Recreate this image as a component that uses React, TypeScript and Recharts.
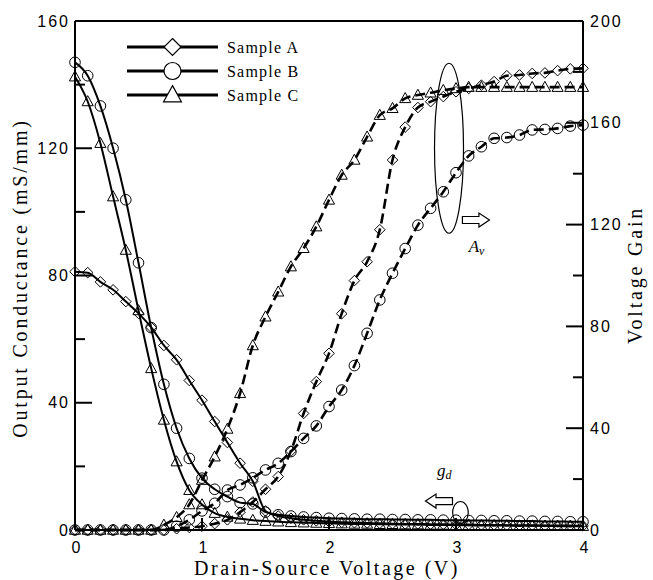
import { ComposedChart, Line, XAxis, YAxis, Legend, ReferenceDot, ReferenceLine } from 'recharts'

// drain-source voltage (V), one point every 0.1 V
const volts = [
  0, 0.1, 0.2, 0.3, 0.4, 0.5, 0.6, 0.7, 0.8, 0.9,
  1.0, 1.1, 1.2, 1.3, 1.4, 1.5, 1.6, 1.7, 1.8, 1.9,
  2.0, 2.1, 2.2, 2.3, 2.4, 2.5, 2.6, 2.7, 2.8, 2.9,
  3.0, 3.1, 3.2, 3.3, 3.4, 3.5, 3.6, 3.7, 3.8, 3.9, 4.0,
]

// output conductance gd (mS/mm), left axis
const gdA = [
  81.2, 80.9, 78.0, 75.5, 71.8, 68.1, 63.7, 58.0, 53.5, 47.0,
  40.8, 34.1, 27.5, 21.0, 15.3, 6.0, 4.4, 3.7, 3.2, 2.9,
  2.6, 2.4, 2.3, 2.2, 2.1, 2.0, 1.9, 1.9, 1.8, 1.8,
  1.7, 1.7, 1.6, 1.6, 1.5, 1.5, 1.5, 1.4, 1.4, 1.4, 1.3,
]
const gdB = [
  147.0, 142.8, 133.3, 120.0, 103.8, 84.0, 63.6, 45.8, 32.0, 22.5,
  16.3, 12.8, 10.5, 8.6, 8.2, 5.6, 4.8, 4.4, 4.1, 3.9,
  3.7, 3.6, 3.5, 3.4, 3.4, 3.3, 3.3, 3.2, 3.2, 3.1,
  3.1, 3.0, 3.0, 2.9, 2.9, 2.8, 2.8, 2.7, 2.7, 2.6, 2.6,
]
const gdC = [
  142.5, 134.7, 121.6, 104.8, 88.0, 69.0, 50.8, 34.6, 21.5, 12.5,
  8.0, 5.3, 4.1, 3.5, 3.1, 2.8, 2.6, 2.4, 2.3, 2.2,
  2.1, 2.0, 1.9, 1.9, 1.8, 1.8, 1.7, 1.7, 1.6, 1.6,
  1.5, 1.5, 1.4, 1.4, 1.4, 1.3, 1.3, 1.3, 1.2, 1.2, 1.2,
]

// voltage gain Av, right axis
const avA = [
  0, 0, 0, 0, 0, 0, 0, 0, 0.5, 1.0,
  1.5, 2.5, 4.0, 7.0, 11.0, 16.0, 21.0, 31.0, 45.8, 58.3,
  69.4, 85.0, 98.0, 105.4, 118.0, 145.4, 158.3, 166.0, 168.3, 170.3,
  172.2, 173.5, 174.8, 176.2, 178.5, 178.8, 179.4, 179.6, 180.5, 181.2, 181.4,
]
const avB = [
  0, 0, 0, 0, 0, 0, 0, 0, 1.5, 4.0,
  7.5, 10.5, 15.7, 17.7, 20.5, 23.6, 26.2, 30.8, 36.0, 40.9,
  48.5, 55.0, 64.6, 77.3, 90.4, 100.9, 110.6, 119.8, 126.4, 132.9,
  140.4, 147.0, 150.6, 153.9, 154.2, 155.2, 157.2, 157.4, 157.8, 158.7, 159.1,
]
const avC = [
  0, 0, 0, 0, 0, 0, 0, 2.0, 5.0, 10.0,
  19.6, 28.8, 39.7, 53.7, 72.5, 83.8, 93.6, 103.5, 110.7, 119.2,
  129.7, 139.5, 145.4, 154.5, 163.0, 165.7, 169.6, 170.9, 171.8, 172.8,
  173.5, 174.0, 174.0, 174.0, 174.0, 174.0, 174.0, 174.0, 174.0, 174.0, 174.0,
]

const xTicks = [0, 1, 2, 3, 4]
const gdTicks = [0, 20, 40, 60, 80, 100, 120, 140, 160]
const avTicks = [0, 20, 40, 60, 80, 100, 120, 140, 160, 180, 200]

type Shape = 'diamond' | 'circle' | 'triangle'

const samples: { name: string; shape: Shape; gd: string; av: string }[] = [
  { name: 'Sample A', shape: 'diamond', gd: 'gdA', av: 'avA' },
  { name: 'Sample B', shape: 'circle', gd: 'gdB', av: 'avB' },
  { name: 'Sample C', shape: 'triangle', gd: 'gdC', av: 'avC' },
]

const data = volts.map((v, i) => ({
  v,
  gdA: gdA[i], gdB: gdB[i], gdC: gdC[i],
  avA: avA[i], avB: avB[i], avC: avC[i],
}))

const INK = '#000'
const SERIF = '"Liberation Serif", "Times New Roman", serif'
const SANS = '"Liberation Sans", Arial, sans-serif'
const PAD = 7 // gap between axis line and tick label

function Marker({ shape, cx, cy, s, fill = 'none', sw = 1 }: { shape: Shape; cx: number; cy: number; s: number; fill?: string; sw?: number }) {
  if (cx == null || cy == null) return null
  if (shape === 'circle') return <circle cx={cx} cy={cy} r={s} fill={fill} stroke={INK} strokeWidth={sw} />
  if (shape === 'diamond') {
    return <path d={`M${cx},${cy - s}L${cx + s},${cy}L${cx},${cy + s}L${cx - s},${cy}Z`} fill={fill} stroke={INK} strokeWidth={sw} />
  }
  return <path d={`M${cx},${cy - s * 1.1}L${cx + s * 1.05},${cy + s * 0.8}L${cx - s * 1.05},${cy + s * 0.8}Z`} fill={fill} stroke={INK} strokeWidth={sw} />
}

const dotFor = (shape: Shape, key: string) => (p: any) =>
  <Marker key={`${key}-${p.index}`} shape={shape} cx={p.cx} cy={p.cy} s={5.3} />

const LeftTick = (p: any) => {
  const v = p.payload.value
  const ax = p.x + PAD
  const major = v % 40 === 0
  return (
    <g>
      <line x1={ax} x2={ax + (major ? 17 : 10)} y1={p.y} y2={p.y} stroke={INK} strokeWidth={2} />
      {major && (
        <text x={p.x + 2} y={p.y + 5.5} textAnchor="end" fontFamily={SANS} fontSize={16} letterSpacing={2} fill={INK}>{v}</text>
      )}
    </g>
  )
}

const RightTick = (p: any) => {
  const v = p.payload.value
  const ax = p.x - PAD
  const major = v % 40 === 0
  return (
    <g>
      <line x1={ax} x2={ax - (major ? 17 : 10)} y1={p.y} y2={p.y} stroke={INK} strokeWidth={2} />
      {major && (
        <text x={p.x} y={p.y + 5.5} textAnchor="start" fontFamily={SANS} fontSize={16} letterSpacing={2} fill={INK}>{v}</text>
      )}
    </g>
  )
}

const BottomTick = (p: any) => (
  <g>
    <line x1={p.x} x2={p.x} y1={p.y} y2={p.y - 12} stroke={INK} strokeWidth={2} />
    <text x={p.x + 1} y={p.y + 23} textAnchor="middle" fontFamily={SANS} fontSize={16} fill={INK}>{p.payload.value}</text>
  </g>
)

const titleStyle = { fontFamily: SERIF, fontSize: 20, fill: INK }

function LegendBox() {
  return (
    <svg width={210} height={80}>
      {samples.map((s, i) => {
        const y = 12 + i * 24
        return (
          <g key={s.name}>
            <line x1={7} x2={98} y1={y} y2={y} stroke={INK} strokeWidth={3} />
            <Marker shape={s.shape} cx={52.5} cy={y} s={8.5} fill="#fff" sw={1.2} />
            <text x={107} y={y + 6} fontFamily={SERIF} fontSize={16} letterSpacing={1.2} fill={INK}>{s.name}</text>
          </g>
        )
      })}
    </svg>
  )
}

const Ellipse = (rx: number, ry: number) => (p: any) =>
  <ellipse cx={p.cx} cy={p.cy} rx={rx} ry={ry} fill="none" stroke={INK} strokeWidth={1.2} />

const Arrow = (dir: 1 | -1) => (p: any) => {
  const { cx, cy } = p
  const pts = [
    [-13.5, -3.5], [3, -3.5], [3, -7], [13.5, 0], [3, 7], [3, 3.5], [-13.5, 3.5],
  ].map(([dx, dy]) => `${cx + dir * dx},${cy + dy}`).join(' ')
  return <polygon points={pts} fill="#fff" stroke={INK} strokeWidth={1.2} />
}

const Symbol = (main: string, sub: string) => (p: any) => (
  <text x={p.cx} y={p.cy} fontFamily={SERIF} fontStyle="italic" fontSize={17} fill={INK}>
    {main}<tspan fontSize={12} dy={3}>{sub}</tspan>
  </text>
)

export default function App() {
  return (
    <div style={{ position: 'absolute', left: 0, top: 0, width: 653, height: 580, background: '#fff' }}>
      <ComposedChart width={653} height={580} data={data} margin={{ top: 21, right: 0, left: 0, bottom: 0 }}>
        <XAxis
          dataKey="v"
          type="number"
          domain={[0, 4]}
          ticks={xTicks}
          interval={0}
          height={50}
          tickSize={0}
          tickMargin={0}
          axisLine={{ stroke: INK, strokeWidth: 2 }}
          tick={BottomTick}
          label={{
            content: (p: any) => (
              <text x={p.viewBox.x + p.viewBox.width / 2 - 2} y={575} textAnchor="middle" letterSpacing={2.5} {...titleStyle}>
                Drain-Source Voltage (V)
              </text>
            ),
          }}
        />
        <YAxis
          yAxisId="l"
          orientation="left"
          width={75}
          domain={[0, 160]}
          ticks={gdTicks}
          interval={0}
          tickSize={0}
          tickMargin={PAD}
          axisLine={{ stroke: INK, strokeWidth: 2 }}
          tick={LeftTick}
          label={{
            content: (p: any) => (
              <text x={27} y={278} transform="rotate(-90 27 278)" textAnchor="middle" letterSpacing={2.8} {...titleStyle}>
                Output Conductance (mS/mm)
              </text>
            ),
          }}
        />
        <YAxis
          yAxisId="r"
          orientation="right"
          width={70}
          domain={[0, 200]}
          ticks={avTicks}
          interval={0}
          tickSize={0}
          tickMargin={PAD}
          axisLine={{ stroke: INK, strokeWidth: 2 }}
          tick={RightTick}
          label={{
            content: (p: any) => (
              <text x={642} y={275} transform="rotate(-90 642 275)" textAnchor="middle" letterSpacing={2.8} {...titleStyle}>
                Voltage Gain
              </text>
            ),
          }}
        />
        <ReferenceLine yAxisId="l" y={160} stroke={INK} strokeWidth={2} />
        <Legend
          layout="horizontal"
          verticalAlign="middle"
          align="center"
          content={<LegendBox />}
          wrapperStyle={{ left: 120, top: 35, width: 210, height: 80 }}
        />
        {samples.map((s) => (
          <Line
            key={s.gd}
            yAxisId="l"
            dataKey={s.gd}
            name={s.name}
            type="monotone"
            stroke={INK}
            strokeWidth={2}
            dot={dotFor(s.shape, s.gd)}
            activeDot={false}
            isAnimationActive={false}
          />
        ))}
        {samples.map((s) => (
          <Line
            key={s.av}
            yAxisId="r"
            dataKey={s.av}
            name={`${s.name} Av`}
            legendType="none"
            type="monotone"
            stroke={INK}
            strokeWidth={2.6}
            strokeDasharray="10 5"
            dot={dotFor(s.shape, s.av)}
            activeDot={false}
            isAnimationActive={false}
          />
        ))}
        <ReferenceDot yAxisId="r" x={2.945} y={150} shape={Ellipse(14.5, 85)} />
        <ReferenceDot yAxisId="r" x={3.157} y={121.8} shape={Arrow(1)} />
        <ReferenceDot yAxisId="r" x={3.1} y={109.2} shape={Symbol('A', 'v')} />
        <ReferenceDot yAxisId="l" x={3.035} y={5.5} shape={Ellipse(7.8, 11)} />
        <ReferenceDot yAxisId="l" x={2.866} y={9.1} shape={Arrow(-1)} />
        <ReferenceDot yAxisId="l" x={2.85} y={17} shape={Symbol('g', 'd')} />
      </ComposedChart>
    </div>
  )
}
